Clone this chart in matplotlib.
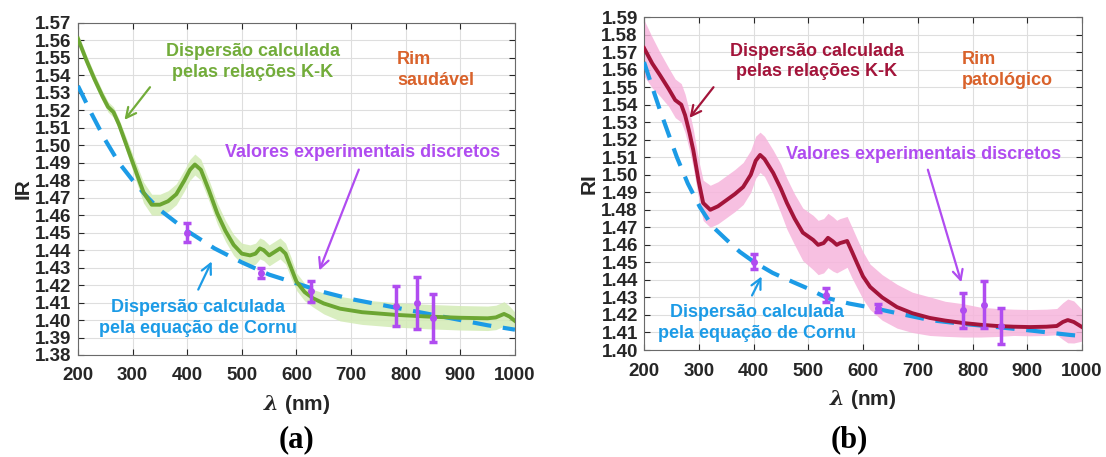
import matplotlib.pyplot as plt

plt.rcParams['font.family'] = ['Liberation Sans', 'DejaVu Sans']
plt.rcParams['font.weight'] = 'bold'
plt.rcParams['mathtext.fontset'] = 'dejavuserif'

# ---- painel (a): rim saudável ----
kk_a_wl = [200, 215, 230, 245, 255, 265, 275, 290, 305, 320, 335, 350, 365, 380, 395,
           405, 414, 425, 440, 455, 470, 485, 500, 515, 525, 533, 540, 550, 560, 570,
           580, 590, 600, 615, 630, 650, 680, 720, 780, 840, 900, 950, 965, 980, 990, 1000]
kk_a_n = [1.561, 1.549, 1.538, 1.528, 1.522, 1.519, 1.512, 1.499, 1.486, 1.473, 1.466,
          1.466, 1.468, 1.472, 1.480, 1.486, 1.489, 1.486, 1.474, 1.461, 1.451, 1.443,
          1.438, 1.437, 1.438, 1.441, 1.440, 1.437, 1.439, 1.441, 1.438, 1.430, 1.422,
          1.416, 1.4125, 1.4095, 1.4065, 1.4045, 1.4030, 1.4020, 1.4013, 1.4010, 1.4015,
          1.4035, 1.4020, 1.3995]
kk_a_err = [0.003, 0.003, 0.003, 0.003, 0.003, 0.003, 0.003, 0.004, 0.005, 0.006, 0.006,
            0.006, 0.006, 0.006, 0.006, 0.006, 0.006, 0.006, 0.006, 0.006, 0.006, 0.006,
            0.006, 0.006, 0.006, 0.006, 0.006, 0.006, 0.006, 0.006, 0.006, 0.006, 0.005,
            0.005, 0.005, 0.006, 0.007, 0.007, 0.007, 0.007, 0.007, 0.007, 0.007, 0.007,
            0.006, 0.005]

cornu_a_wl = [200, 225, 250, 275, 300, 325, 350, 375, 400, 450, 500, 550, 600, 650, 700,
              750, 800, 850, 900, 950, 1000]
cornu_a_n = [1.534, 1.518, 1.503, 1.490, 1.480, 1.471, 1.463, 1.457, 1.451, 1.441, 1.433,
             1.426, 1.421, 1.416, 1.412, 1.409, 1.406, 1.403, 1.400, 1.397, 1.3945]

exp_a_wl = [400, 535, 627, 782, 821, 850]
exp_a_n = [1.450, 1.427, 1.4166, 1.408, 1.4097, 1.4011]
exp_a_err = [0.0055, 0.003, 0.006, 0.0115, 0.015, 0.0138]

# ---- painel (b): rim patológico ----
kk_b_wl = [200, 215, 229, 245, 257, 268, 275, 283, 290, 300, 308, 321, 335, 351, 366,
           381, 395, 404, 412, 420, 436, 450, 461, 475, 490, 509, 518, 528, 536, 545,
           552, 558, 571, 580, 589, 600, 613, 635, 662, 690, 722, 750, 783, 815, 845,
           875, 905, 935, 954, 965, 974, 985, 1000]
kk_b_n = [1.5723, 1.5635, 1.5569, 1.549, 1.5426, 1.540, 1.534, 1.524, 1.514, 1.496,
          1.4839, 1.480, 1.482, 1.4856, 1.489, 1.493, 1.500, 1.508, 1.5113, 1.509, 1.501,
          1.492, 1.4839, 1.475, 1.467, 1.4628, 1.460, 1.461, 1.464, 1.462, 1.460, 1.461,
          1.4622, 1.456, 1.4496, 1.442, 1.436, 1.430, 1.4245, 1.421, 1.4183, 1.4168,
          1.4154, 1.4144, 1.4137, 1.4133, 1.4131, 1.4133, 1.4137, 1.416, 1.4171, 1.416,
          1.4131]
kk_b_hi = [0.016, 0.015, 0.013, 0.012, 0.012, 0.012, 0.012, 0.012, 0.012, 0.012, 0.013,
           0.014, 0.014, 0.014, 0.014, 0.014, 0.014, 0.014, 0.013, 0.013, 0.013, 0.014,
           0.014, 0.014, 0.014, 0.014, 0.014, 0.014, 0.014, 0.014, 0.014, 0.014, 0.014,
           0.014, 0.014, 0.014, 0.013, 0.013, 0.013, 0.012, 0.012, 0.011, 0.011, 0.010,
           0.010, 0.010, 0.010, 0.010, 0.010, 0.011, 0.012, 0.012, 0.010]
kk_b_lo = [0.016, 0.014, 0.012, 0.010, 0.010, 0.010, 0.010, 0.010, 0.010, 0.010, 0.010,
           0.010, 0.010, 0.010, 0.010, 0.010, 0.010, 0.010, 0.010, 0.010, 0.012, 0.014,
           0.015, 0.015, 0.016, 0.017, 0.017, 0.017, 0.017, 0.017, 0.016, 0.016, 0.015,
           0.015, 0.014, 0.013, 0.013, 0.013, 0.012, 0.011, 0.010, 0.009, 0.008, 0.007,
           0.006, 0.005, 0.005, 0.005, 0.005, 0.010, 0.013, 0.012, 0.008]

cornu_b_wl = [200, 215, 229, 245, 260, 280, 302, 325, 351, 375, 401, 435, 472, 500, 534,
              575, 618, 670, 722, 780, 845, 910, 978, 1000]
cornu_b_n = [1.5643, 1.550, 1.537, 1.523, 1.510, 1.495, 1.4816, 1.4705, 1.4628, 1.456,
             1.4502, 1.444, 1.4388, 1.435, 1.4297, 1.4265, 1.424, 1.4205, 1.4171, 1.4150,
             1.4131, 1.4110, 1.4086, 1.408]

exp_b_wl = [401, 533, 627, 782, 821, 852]
exp_b_n = [1.4505, 1.4314, 1.424, 1.4228, 1.4257, 1.4137]
exp_b_err = [0.004, 0.004, 0.0025, 0.0100, 0.0134, 0.0102]

BLUE = '#1c9be6'
PURPLE = '#b04cf0'
ORANGE = '#d9622b'
TXT = '#262626'

fig = plt.figure(figsize=(11.06, 4.57), dpi=100)


def style_axes(ax, ymin, ymax, ylabel):
    ax.set_xlim(200, 1000)
    ax.set_ylim(ymin, ymax)
    ax.set_xticks(range(200, 1001, 100))
    yt = [round(ymin + 0.01 * i, 2) for i in range(int(round((ymax - ymin) / 0.01)) + 1)]
    ax.set_yticks(yt)
    ax.set_yticklabels(['%.2f' % v for v in yt])
    ax.grid(True, color='#dedede', linewidth=0.8)
    ax.set_axisbelow(True)
    ax.tick_params(direction='in', top=True, right=True, length=4, width=0.8,
                   colors=TXT, labelsize=13.5)
    ax.tick_params(axis='x', pad=9)
    ax.tick_params(axis='y', pad=4.5)
    for s in ax.spines.values():
        s.set_color('#6a6a6a')
        s.set_linewidth(0.8)
    for lab in ax.get_xticklabels() + ax.get_yticklabels():
        lab.set_fontweight('bold')
    ax.set_ylabel(ylabel, fontsize=15, fontweight='bold', color=TXT, labelpad=2)
    ax.set_xlabel(r'$\lambda$ (nm)', fontsize=15, fontweight='bold', color=TXT, labelpad=6)


# painel (a)
ax1 = fig.add_axes([0.0705, 0.2232, 0.3951, 0.7265])
lo = [n - e for n, e in zip(kk_a_n, kk_a_err)]
hi = [n + e for n, e in zip(kk_a_n, kk_a_err)]
ax1.fill_between(kk_a_wl, lo, hi, color='#d3ebb5', alpha=0.85, linewidth=0, zorder=2)
ax1.plot(cornu_a_wl, cornu_a_n, color=BLUE, lw=3, dashes=(4.5, 2.8), zorder=3)
ax1.plot(kk_a_wl, kk_a_n, color='#6ca632', lw=2.8, zorder=4)
ax1.errorbar(exp_a_wl, exp_a_n, yerr=exp_a_err, fmt='o', ms=4, color=PURPLE,
             ecolor=PURPLE, elinewidth=2.5, capsize=3, capthick=2.5, zorder=5)
style_axes(ax1, 1.38, 1.57, 'IR')

ax1.text(520, 1.5475, 'Dispersão calculada\npelas relações K-K', color='#72ac3a',
         fontsize=13, fontweight='bold', ha='center', va='center', linespacing=1.3)
ax1.annotate('', xy=(282, 1.5133), xytext=(335, 1.5345),
             arrowprops=dict(arrowstyle='->', color='#72ac3a', lw=1.6, mutation_scale=18))
ax1.text(784, 1.5431, 'Rim\nsaudável', color=ORANGE, fontsize=13, fontweight='bold',
         ha='left', va='center', linespacing=1.3)
ax1.text(721, 1.4956, 'Valores experimentais discretos', color=PURPLE, fontsize=13,
         fontweight='bold', ha='center', va='center')
ax1.annotate('', xy=(640, 1.4269), xytext=(716, 1.4876),
             arrowprops=dict(arrowstyle='->', color=PURPLE, lw=1.6, mutation_scale=18))
ax1.text(420, 1.4011, 'Dispersão calculada\npela equação de Cornu', color=BLUE,
         fontsize=13, fontweight='bold', ha='center', va='center', linespacing=1.3)
ax1.annotate('', xy=(447, 1.435), xytext=(418, 1.416),
             arrowprops=dict(arrowstyle='->', color=BLUE, lw=1.6, mutation_scale=18))

# painel (b)
ax2 = fig.add_axes([0.5823, 0.2341, 0.3960, 0.7287])
lo = [n - e for n, e in zip(kk_b_n, kk_b_lo)]
hi = [n + e for n, e in zip(kk_b_n, kk_b_hi)]
ax2.fill_between(kk_b_wl, lo, hi, color='#f6b5dc', alpha=0.85, linewidth=0, zorder=2)
ax2.plot(cornu_b_wl, cornu_b_n, color=BLUE, lw=3, dashes=(4.5, 2.8), zorder=3)
ax2.plot(kk_b_wl, kk_b_n, color='#a3143a', lw=2.8, zorder=4)
ax2.errorbar(exp_b_wl, exp_b_n, yerr=exp_b_err, fmt='o', ms=4, color=PURPLE,
             ecolor=PURPLE, elinewidth=2.5, capsize=3, capthick=2.5, zorder=5)
style_axes(ax2, 1.40, 1.59, 'RI')

ax2.text(516, 1.5646, 'Dispersão calculada\npelas relações K-K', color='#a3143a',
         fontsize=13, fontweight='bold', ha='center', va='center', linespacing=1.3)
ax2.annotate('', xy=(280, 1.5312), xytext=(330, 1.5512),
             arrowprops=dict(arrowstyle='->', color='#a3143a', lw=1.6, mutation_scale=18))
ax2.text(781, 1.5598, 'Rim\npatológico', color=ORANGE, fontsize=13, fontweight='bold',
         ha='left', va='center', linespacing=1.3)
ax2.text(710, 1.5118, 'Valores experimentais discretos', color=PURPLE, fontsize=13,
         fontweight='bold', ha='center', va='center')
ax2.annotate('', xy=(781, 1.4371), xytext=(717, 1.5044),
             arrowprops=dict(arrowstyle='->', color=PURPLE, lw=1.6, mutation_scale=18))
ax2.text(406, 1.4154, 'Dispersão calculada\npela equação de Cornu', color=BLUE,
         fontsize=13, fontweight='bold', ha='center', va='center', linespacing=1.3)
ax2.annotate('', xy=(417, 1.4434), xytext=(395, 1.4297),
             arrowprops=dict(arrowstyle='->', color=BLUE, lw=1.6, mutation_scale=18))

fig.text(297 / 1106, 1 - 440 / 457, '(a)', family=['Liberation Serif', 'DejaVu Serif'],
         fontsize=22, fontweight='bold', ha='center', va='center')
fig.text(849 / 1106, 1 - 440 / 457, '(b)', family=['Liberation Serif', 'DejaVu Serif'],
         fontsize=22, fontweight='bold', ha='center', va='center')

fig.savefig('out.png', dpi=100)
